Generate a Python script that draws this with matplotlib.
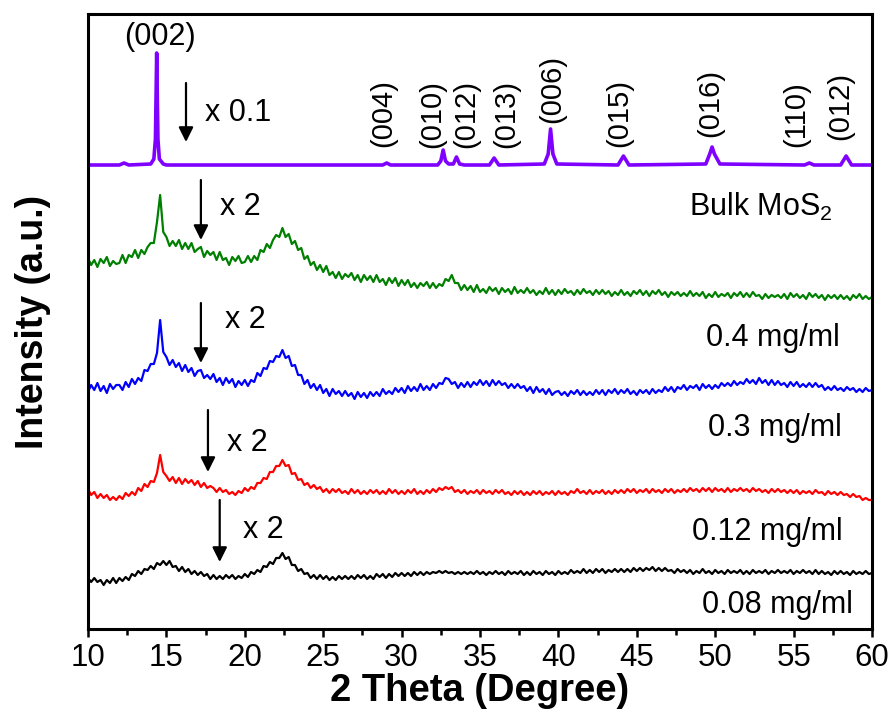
import numpy as np
import matplotlib
matplotlib.use('Agg')
import matplotlib.pyplot as plt
from matplotlib.ticker import MultipleLocator

plt.rcParams['font.family'] = ['Liberation Sans', 'DejaVu Sans']
plt.rcParams['mathtext.fontset'] = 'custom'
plt.rcParams['mathtext.rm'] = 'Liberation Sans'
plt.rcParams['mathtext.it'] = 'Liberation Sans:italic'
plt.rcParams['mathtext.bf'] = 'Liberation Sans:bold'

# ---------------- data (intensity in arbitrary, vertically offset units) ----------------
two_theta = np.round(np.arange(10.0, 60.001, 0.2), 1)   # 251 sampling points, 10..60 deg

# Bulk MoS2 (x 0.1), sparse trace through the reflections
bulk_theta = [10.0, 12.0, 12.3, 12.6, 14.0, 14.2, 14.3, 14.38, 14.46, 14.55, 14.8, 15.0,
              28.8, 29.05, 29.3, 32.3, 32.5, 32.65, 32.8, 33.0, 33.3, 33.5, 33.7, 34.0,
              35.6, 35.9, 36.2, 39.1, 39.35, 39.5, 39.65, 39.9, 43.8, 44.15, 44.5,
              49.4, 49.65, 49.8, 49.95, 50.3, 55.7, 56.0, 56.3, 58.0, 58.35, 58.7, 60.0]
bulk_int = [464, 464, 466, 464, 465, 470, 490, 576, 490, 470, 465, 464,
            464, 466, 464, 464, 468, 479, 468, 465, 465, 472, 465, 464,
            464, 471, 464, 465, 475, 500, 475, 465, 464, 473, 464,
            465, 475, 482, 475, 465, 464, 466, 464, 464, 473, 464, 464]

# 0.4 mg/ml (x 2)
int_04 = [
    371, 364, 369, 362, 370, 366, 372, 363, 368, 365,
    366, 374, 366, 374, 372, 379, 371, 379, 375, 382,
    386, 386, 407, 434, 397, 392, 383, 388, 383, 389,
    380, 386, 380, 386, 377, 380, 382, 372, 378, 374,
    377, 369, 377, 369, 371, 364, 372, 368, 373, 366,
    367, 373, 367, 373, 369, 379, 377, 385, 381, 389,
    394, 392, 401, 392, 395, 385, 388, 379, 381, 370,
    373, 364, 367, 359, 364, 357, 363, 354, 357, 351,
    357, 350, 355, 352, 356, 349, 354, 347, 354, 349,
    353, 347, 354, 347, 350, 344, 351, 346, 351, 343,
    349, 344, 349, 342, 346, 341, 346, 343, 347, 341,
    346, 341, 345, 343, 350, 348, 354, 346, 346, 339,
    344, 339, 343, 337, 344, 337, 340, 336, 342, 338,
    341, 335, 341, 337, 340, 335, 342, 336, 339, 336,
    341, 336, 339, 334, 338, 335, 341, 335, 339, 334,
    339, 335, 340, 336, 338, 334, 339, 335, 340, 336,
    338, 334, 339, 335, 339, 335, 338, 333, 337, 334,
    339, 334, 337, 333, 338, 335, 339, 334, 338, 333,
    338, 335, 339, 334, 337, 332, 337, 334, 337, 333,
    336, 333, 338, 333, 336, 333, 337, 331, 335, 332,
    337, 332, 335, 333, 336, 331, 336, 333, 337, 332,
    336, 332, 337, 333, 334, 330, 335, 331, 334, 332,
    334, 331, 335, 330, 336, 332, 335, 331, 334, 330,
    336, 332, 335, 331, 334, 329, 334, 331, 334, 330,
    334, 330, 333, 329, 334, 331, 335, 330, 333, 330,
    332]

# 0.3 mg/ml (x 2)
int_03 = [
    237, 244, 239, 246, 238, 243, 236, 245, 240, 244,
    244, 239, 247, 242, 250, 245, 251, 248, 259, 258,
    265, 265, 276, 309, 277, 272, 264, 269, 262, 266,
    258, 264, 257, 261, 253, 258, 259, 251, 254, 250,
    255, 247, 251, 244, 251, 246, 250, 242, 248, 244,
    249, 243, 249, 247, 256, 253, 261, 260, 268, 267,
    273, 272, 279, 271, 273, 263, 264, 254, 254, 245,
    249, 241, 245, 239, 244, 236, 240, 233, 240, 235,
    238, 233, 238, 233, 236, 230, 237, 232, 236, 231,
    237, 233, 237, 233, 240, 235, 238, 235, 241, 237,
    241, 236, 243, 238, 242, 238, 245, 239, 243, 239,
    245, 241, 246, 245, 251, 250, 245, 247, 241, 246,
    242, 247, 242, 247, 244, 249, 244, 248, 243, 249,
    244, 248, 244, 246, 241, 245, 241, 245, 241, 243,
    238, 242, 236, 242, 237, 240, 235, 240, 234, 237,
    238, 234, 237, 233, 238, 235, 239, 234, 238, 234,
    237, 234, 239, 235, 239, 234, 239, 236, 240, 235,
    239, 236, 240, 235, 238, 234, 239, 236, 239, 235,
    240, 236, 239, 237, 242, 238, 242, 237, 242, 240,
    244, 239, 243, 241, 244, 239, 245, 241, 244, 240,
    244, 241, 246, 243, 246, 243, 248, 244, 247, 245,
    250, 246, 249, 245, 251, 246, 249, 244, 249, 244,
    248, 244, 246, 242, 247, 243, 247, 242, 245, 242,
    246, 242, 246, 242, 244, 239, 242, 239, 243, 239,
    241, 238, 242, 239, 241, 237, 240, 237, 241, 238,
    239]

# 0.12 mg/ml (x 2)
int_012 = [
    140, 134, 137, 131, 135, 131, 134, 129, 132, 129,
    133, 130, 136, 133, 137, 134, 141, 138, 145, 142,
    148, 147, 156, 174, 157, 153, 148, 152, 146, 151,
    145, 150, 146, 149, 144, 148, 142, 146, 141, 143,
    141, 137, 141, 137, 139, 135, 137, 134, 138, 136,
    141, 138, 142, 140, 146, 146, 151, 150, 157, 157,
    163, 163, 169, 163, 164, 155, 156, 149, 150, 144,
    146, 141, 144, 140, 142, 137, 140, 136, 140, 137,
    140, 136, 138, 135, 140, 136, 139, 135, 138, 135,
    139, 136, 139, 135, 138, 135, 140, 136, 139, 135,
    138, 135, 139, 136, 140, 135, 138, 135, 139, 136,
    140, 137, 141, 139, 142, 140, 142, 137, 139, 136,
    139, 135, 138, 136, 139, 135, 139, 136, 138, 135,
    139, 136, 139, 135, 137, 134, 138, 135, 138, 134,
    137, 134, 138, 135, 138, 134, 137, 135, 138, 134,
    138, 135, 137, 134, 138, 136, 140, 136, 138, 135,
    139, 135, 138, 136, 139, 135, 138, 135, 139, 136,
    139, 136, 140, 137, 140, 136, 139, 137, 140, 136,
    140, 137, 139, 136, 140, 137, 140, 136, 139, 137,
    140, 137, 141, 138, 140, 137, 141, 138, 141, 137,
    141, 138, 140, 137, 141, 137, 140, 138, 141, 138,
    140, 137, 141, 138, 140, 137, 139, 136, 140, 137,
    140, 137, 139, 136, 139, 136, 139, 135, 138, 136,
    138, 135, 139, 136, 137, 134, 138, 135, 137, 134,
    137, 134, 135, 132, 135, 132, 133, 129, 131, 129,
    129]

# 0.08 mg/ml (x 2)
int_008 = [
    51, 47, 51, 47, 49, 44, 49, 46, 51, 46,
    51, 48, 52, 49, 55, 53, 58, 55, 60, 59,
    63, 60, 66, 64, 68, 64, 68, 62, 63, 58,
    62, 57, 60, 55, 58, 54, 57, 53, 55, 50,
    54, 50, 53, 50, 54, 51, 54, 50, 53, 51,
    55, 52, 57, 55, 59, 57, 63, 62, 67, 65,
    71, 71, 76, 70, 72, 64, 64, 58, 60, 55,
    56, 51, 54, 50, 54, 50, 53, 49, 52, 49,
    53, 50, 53, 50, 53, 50, 54, 51, 54, 50,
    53, 50, 55, 52, 55, 51, 55, 52, 56, 53,
    56, 53, 56, 53, 57, 54, 57, 54, 57, 55,
    57, 56, 58, 56, 58, 56, 57, 55, 57, 55,
    57, 55, 57, 55, 58, 55, 57, 54, 57, 55,
    58, 55, 57, 54, 58, 55, 57, 55, 58, 54,
    57, 54, 58, 55, 57, 54, 58, 55, 57, 54,
    58, 55, 57, 55, 59, 56, 58, 56, 60, 56,
    59, 56, 60, 57, 60, 56, 59, 57, 60, 57,
    60, 57, 60, 57, 61, 58, 61, 58, 61, 59,
    62, 58, 61, 58, 61, 58, 59, 56, 60, 57,
    59, 56, 59, 55, 58, 56, 60, 56, 58, 55,
    59, 56, 58, 55, 59, 56, 58, 56, 59, 55,
    58, 55, 59, 56, 58, 56, 59, 55, 58, 56,
    59, 56, 58, 56, 59, 55, 58, 56, 59, 56,
    58, 55, 59, 55, 58, 55, 57, 54, 58, 55,
    58, 55, 57, 54, 58, 55, 57, 55, 58, 55,
    56]

sample_labels = ['Bulk MoS$_\\mathrm{2}$', '0.4 mg/ml', '0.3 mg/ml', '0.12 mg/ml', '0.08 mg/ml']
scale_labels = ['x 0.1', 'x 2', 'x 2', 'x 2', 'x 2']
hkl_labels = ['(004)', '(010)', '(012)', '(013)', '(006)', '(015)', '(016)', '(110)', '(012)']
hkl_theta = [28.8, 31.95, 34.15, 36.65, 39.6, 43.9, 49.7, 55.2, 58.0]
x_ticks = [10, 15, 20, 25, 30, 35, 40, 45, 50, 55, 60]

# ---------------- figure ----------------
fig = plt.figure(figsize=(8.91, 7.16), dpi=100)
ax = fig.add_axes([88 / 891, 1 - 629 / 716, 784 / 891, 615 / 716])

ax.plot(two_theta, int_008, color='black', lw=1.6)
ax.plot(two_theta, int_012, color='#ff0000', lw=1.6)
ax.plot(two_theta, int_03, color='#0000ff', lw=1.6)
ax.plot(two_theta, int_04, color='#008000', lw=1.6)
ax.plot(bulk_theta, bulk_int, color='#8000ff', lw=2.6)

ax.set_xlim(10, 60)
ax.set_ylim(0, 615)
ax.set_xticks(x_ticks)
ax.xaxis.set_minor_locator(MultipleLocator(2.5))
ax.tick_params(axis='x', which='major', direction='out', length=6, width=1.8,
               labelsize=22.5, pad=4)
ax.tick_params(axis='x', which='minor', direction='out', length=4, width=1.8)
ax.tick_params(axis='y', which='both', left=False, labelleft=False)
for sp in ax.spines.values():
    sp.set_linewidth(2.2)

ax.set_xlabel('2 Theta (Degree)', fontsize=27.5, fontweight='bold')
ax.xaxis.set_label_coords(0.5, -0.072)
ax.xaxis.label.set_va('top')
ax.set_ylabel('Intensity (a.u.)', fontsize=27, fontweight='bold')
ax.yaxis.set_label_coords(-0.047, 0.5)

# hkl labels
ax.text(14.6, 577, '(002)', fontsize=22, ha='center', va='bottom')
hkl_bottom = [482, 481, 481, 481, 506, 482, 492, 482, 489]
for lab, th, yb in zip(hkl_labels, hkl_theta, hkl_bottom):
    ax.text(th, yb, lab, fontsize=21, rotation=90, ha='center', va='bottom')

# scale arrows and factors
arrow_x = [16.25, 17.2, 17.2, 17.65, 18.4]
arrow_top = [546, 449, 326, 219, 129]
arrow_tip = [487, 389, 266, 157, 67]
text_x = [17.46, 18.4, 18.74, 18.85, 19.9]
text_y = [516, 422, 309, 186, 99]
for xa, yt, yp, tx, ty, s in zip(arrow_x, arrow_top, arrow_tip, text_x, text_y, scale_labels):
    ax.annotate('', xy=(xa, yp), xytext=(xa, yt),
                arrowprops=dict(arrowstyle='-|>', color='black', lw=1.6,
                                mutation_scale=22, shrinkA=0, shrinkB=0))
    ax.text(tx, ty, s, fontsize=22, ha='left', va='center')

# sample labels
lab_x = [57.5, 57.96, 58.1, 58.1, 58.8]
lab_y = [422, 291, 201, 97, 24]
for lx, ly, s in zip(lab_x, lab_y, sample_labels):
    ax.text(lx, ly, s, fontsize=22, ha='right', va='center')

fig.savefig('out.png', dpi=100)
